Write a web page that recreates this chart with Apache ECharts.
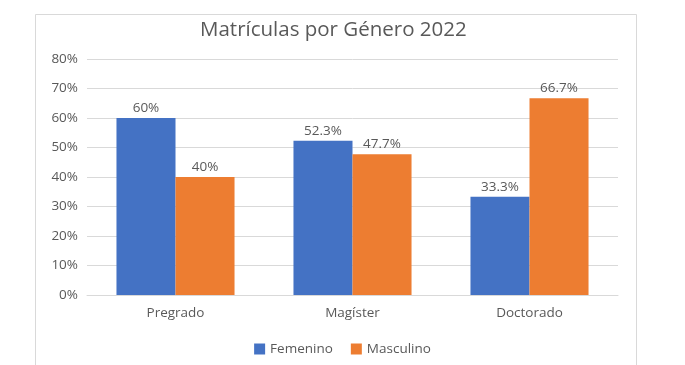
<!DOCTYPE html>
<html><head><meta charset="utf-8">
<script src="https://cdn.jsdelivr.net/npm/echarts@6/dist/echarts.min.js"></script>
<style>html,body{margin:0;padding:0;background:#fff}#c{width:685px;height:365px}</style>
</head><body><div id="c"></div>
<script>
const categories = ['Pregrado', 'Magíster', 'Doctorado'];
const femenino = [60, 52.3, 33.3];
const masculino = [40, 47.7, 66.7];
const yTicks = [0, 10, 20, 30, 40, 50, 60, 70, 80];

const font = '"Open Sans", "Noto Sans", sans-serif';
const fs = 13.5;
const chart = echarts.init(document.getElementById('c'));
chart.setOption({
  animation: false,
  backgroundColor: '#fff',
  graphic: [{
    type: 'rect', shape: { x: 35.5, y: 14.5, width: 601, height: 370 },
    style: { fill: 'none', stroke: '#d9d9d9', lineWidth: 1 }, silent: true, z: -1
  }],
  title: {
    text: 'Matrículas por Género 2022', left: 195, top: 15,
    textStyle: { fontFamily: font, fontSize: 20.5, fontWeight: 'normal', color: '#595959' }
  },
  legend: {
    bottom: 4, left: 'center', itemWidth: 11, itemHeight: 11, itemGap: 18,
    icon: 'rect',
    textStyle: { fontFamily: font, fontSize: fs, color: '#595959' },
    data: ['Femenino', 'Masculino']
  },
  grid: { left: 87, right: 67, top: 59, bottom: 70, containLabel: false },
  xAxis: {
    type: 'category', data: categories,
    axisLine: { show: true, lineStyle: { color: '#d9d9d9' } },
    axisTick: { show: false },
    axisLabel: { fontFamily: font, fontSize: fs, color: '#595959', margin: 11 }
  },
  yAxis: {
    type: 'value', min: yTicks[0], max: yTicks[yTicks.length - 1], interval: 10,
    axisLine: { show: false }, axisTick: { show: false },
    splitLine: { lineStyle: { color: '#d9d9d9' } },
    axisLabel: { fontFamily: font, fontSize: fs, color: '#595959', margin: 9, formatter: v => v + '%' }
  },
  series: [
    {
      name: 'Femenino', type: 'bar', data: femenino, barGap: '0%', barCategoryGap: '33.3%',
      itemStyle: { color: '#4472C4' },
      label: { show: true, position: 'top', distance: 3, fontFamily: font, fontSize: fs, color: '#595959', formatter: p => p.value + '%' }
    },
    {
      name: 'Masculino', type: 'bar', data: masculino, barGap: '0%', barCategoryGap: '33.3%',
      itemStyle: { color: '#ED7D31' },
      label: { show: true, position: 'top', distance: 3, fontFamily: font, fontSize: fs, color: '#595959', formatter: p => p.value + '%' }
    }
  ]
});
</script></body></html>
